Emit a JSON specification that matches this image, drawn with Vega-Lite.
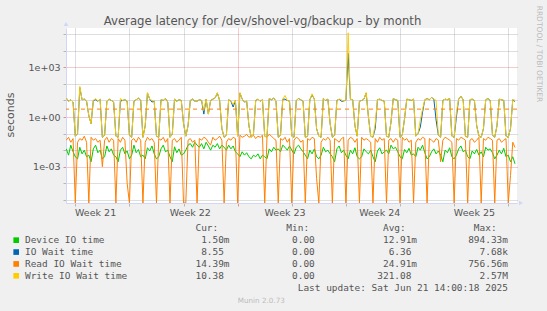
{
 "$schema": "https://vega.github.io/schema/vega-lite/v6.json",
 "width": 451,
 "height": 175,
 "autosize": {"type": "none"},
 "padding": {"left": 66, "top": 28, "right": 30, "bottom": 108},
 "background": "#f0f0f0",
 "config": {"view": {"fill": "#ffffff", "stroke": null}, "font": "DejaVu Sans", "axis": {"labelFont": "DejaVu Sans", "titleFont": "DejaVu Sans"}},
 "layer": [
  {
   "layer": [
    {
     "data": {"values": [
      {"hour":32,"dev":0.012,"io":14,"rd":0.04,"wr":14},
      {"hour":36,"dev":0.005,"io":9,"rd":0.06,"wr":9},
      {"hour":40,"dev":0.02,"io":11,"rd":0.03,"wr":11},
      {"hour":44,"dev":0.008,"io":8,"rd":0.05,"wr":8},
      {"hour":48,"dev":0.004,"io":0.07,"rd":0,"wr":0.07},
      {"hour":52,"dev":0.003,"io":0.1,"rd":0.03,"wr":0.1},
      {"hour":56,"dev":0.015,"io":60,"rd":0.05,"wr":70},
      {"hour":60,"dev":0.006,"io":11,"rd":0.04,"wr":11},
      {"hour":64,"dev":0.01,"io":12,"rd":0.07,"wr":12},
      {"hour":68,"dev":0.004,"io":9,"rd":0.03,"wr":9},
      {"hour":72,"dev":0.005,"io":1.2,"rd":0,"wr":1.2},
      {"hour":76,"dev":0.002,"io":0.4,"rd":0.06,"wr":0.4},
      {"hour":80,"dev":0.012,"io":10,"rd":0.04,"wr":10},
      {"hour":84,"dev":0.02,"io":11,"rd":0.05,"wr":13},
      {"hour":88,"dev":0.007,"io":9,"rd":0.03,"wr":9},
      {"hour":92,"dev":0.01,"io":12,"rd":0.04,"wr":12},
      {"hour":96,"dev":0.003,"io":0.06,"rd":0.001,"wr":0.06},
      {"hour":100,"dev":0.004,"io":0.08,"rd":0.04,"wr":0.08},
      {"hour":104,"dev":0.018,"io":9,"rd":0.06,"wr":9},
      {"hour":108,"dev":0.008,"io":12,"rd":0.03,"wr":12},
      {"hour":112,"dev":0.012,"io":10,"rd":0.05,"wr":10},
      {"hour":116,"dev":0.005,"io":8,"rd":0.04,"wr":8},
      {"hour":120,"dev":0.004,"io":0.07,"rd":0,"wr":0.07},
      {"hour":124,"dev":0.002,"io":0.06,"rd":0.05,"wr":0.06},
      {"hour":128,"dev":0.01,"io":9,"rd":0.03,"wr":13},
      {"hour":132,"dev":0.015,"io":10,"rd":0.06,"wr":10},
      {"hour":136,"dev":0.006,"io":11,"rd":0.04,"wr":11},
      {"hour":140,"dev":0.009,"io":9,"rd":0.0001,"wr":9},
      {"hour":144,"dev":0.003,"io":0.08,"rd":0,"wr":0.08},
      {"hour":148,"dev":0.005,"io":0.06,"rd":0.04,"wr":0.06},
      {"hour":152,"dev":0.02,"io":9,"rd":0.05,"wr":9},
      {"hour":156,"dev":0.007,"io":11,"rd":0.03,"wr":11},
      {"hour":160,"dev":0.011,"io":14,"rd":0.06,"wr":14},
      {"hour":164,"dev":0.004,"io":10,"rd":0.04,"wr":10},
      {"hour":168,"dev":0.005,"io":0.06,"rd":0,"wr":0.06},
      {"hour":172,"dev":0.003,"io":0.3,"rd":0.03,"wr":0.3},
      {"hour":176,"dev":0.014,"io":28,"rd":0.06,"wr":30},
      {"hour":180,"dev":0.009,"io":12,"rd":0.04,"wr":12},
      {"hour":184,"dev":0.018,"io":8,"rd":0.05,"wr":10},
      {"hour":188,"dev":0.006,"io":9,"rd":0.03,"wr":9},
      {"hour":192,"dev":0.003,"io":0.07,"rd":0,"wr":0.07},
      {"hour":196,"dev":0.004,"io":0.06,"rd":0.05,"wr":0.06},
      {"hour":200,"dev":0.012,"io":11,"rd":0.04,"wr":11},
      {"hour":204,"dev":0.02,"io":10,"rd":0.06,"wr":10},
      {"hour":208,"dev":0.008,"io":13,"rd":0.03,"wr":13},
      {"hour":212,"dev":0.01,"io":8,"rd":0.05,"wr":8},
      {"hour":216,"dev":0.004,"io":0.06,"rd":0,"wr":0.06},
      {"hour":220,"dev":0.002,"io":0.09,"rd":0.04,"wr":0.09},
      {"hour":224,"dev":0.016,"io":12,"rd":0.05,"wr":12},
      {"hour":228,"dev":0.007,"io":9,"rd":0.03,"wr":9},
      {"hour":232,"dev":0.012,"io":11,"rd":0.04,"wr":11},
      {"hour":236,"dev":0.005,"io":10,"rd":0.06,"wr":10},
      {"hour":240,"dev":0.006,"io":0.4,"rd":0,"wr":0.4},
      {"hour":244,"dev":0.01,"io":0.07,"rd":0,"wr":0.07},
      {"hour":248,"dev":0.02,"io":0.3,"rd":0.04,"wr":0.3},
      {"hour":252,"dev":0.025,"io":10,"rd":0.05,"wr":10},
      {"hour":256,"dev":0.015,"io":12,"rd":0.03,"wr":12},
      {"hour":260,"dev":0.03,"io":9,"rd":0.04,"wr":9},
      {"hour":264,"dev":0.02,"io":9,"rd":0,"wr":9},
      {"hour":268,"dev":0.015,"io":11,"rd":0.05,"wr":11},
      {"hour":272,"dev":0.025,"io":10,"rd":0.04,"wr":10},
      {"hour":276,"dev":0.012,"io":1.5,"rd":0.06,"wr":2.5},
      {"hour":280,"dev":0.03,"io":12,"rd":0.05,"wr":12},
      {"hour":284,"dev":0.018,"io":1.5,"rd":0.03,"wr":1.5},
      {"hour":288,"dev":0.01,"io":10,"rd":0.02,"wr":10},
      {"hour":292,"dev":0.02,"io":12,"rd":0.06,"wr":12},
      {"hour":296,"dev":0.015,"io":14,"rd":0.04,"wr":14},
      {"hour":300,"dev":0.025,"io":28,"rd":0.05,"wr":30},
      {"hour":304,"dev":0.012,"io":10,"rd":0.07,"wr":10},
      {"hour":308,"dev":0.02,"io":0.2,"rd":0.04,"wr":0.2},
      {"hour":312,"dev":0.015,"io":0.06,"rd":0,"wr":0.06},
      {"hour":316,"dev":0.01,"io":0.08,"rd":0.03,"wr":0.08},
      {"hour":320,"dev":0.02,"io":11,"rd":0.05,"wr":11},
      {"hour":324,"dev":0.012,"io":9,"rd":0.04,"wr":9},
      {"hour":328,"dev":0.018,"io":4,"rd":0.06,"wr":6},
      {"hour":332,"dev":0.008,"io":10,"rd":0.05,"wr":10},
      {"hour":336,"dev":0.006,"io":0.07,"rd":0,"wr":0.07},
      {"hour":340,"dev":0.004,"io":28,"rd":0.08,"wr":30},
      {"hour":344,"dev":0.008,"io":12,"rd":0.06,"wr":12},
      {"hour":348,"dev":0.005,"io":8,"rd":0.07,"wr":8},
      {"hour":352,"dev":0.007,"io":9,"rd":0.09,"wr":9},
      {"hour":356,"dev":0.004,"io":0.3,"rd":0.06,"wr":0.3},
      {"hour":360,"dev":0.003,"io":0.06,"rd":0.07,"wr":0.06},
      {"hour":364,"dev":0.005,"io":0.09,"rd":0.08,"wr":0.09},
      {"hour":368,"dev":0.004,"io":10,"rd":0.05,"wr":10},
      {"hour":372,"dev":0.006,"io":12,"rd":0.07,"wr":12},
      {"hour":376,"dev":0.003,"io":9,"rd":0.06,"wr":9},
      {"hour":380,"dev":0.005,"io":11,"rd":0.08,"wr":11},
      {"hour":384,"dev":0.004,"io":0.07,"rd":0,"wr":0.07},
      {"hour":388,"dev":0.003,"io":0.06,"rd":0.06,"wr":0.06},
      {"hour":392,"dev":0.012,"io":13,"rd":0.09,"wr":13},
      {"hour":396,"dev":0.008,"io":11,"rd":0.07,"wr":11},
      {"hour":400,"dev":0.015,"io":14,"rd":0.05,"wr":14},
      {"hour":404,"dev":0.01,"io":9,"rd":0.04,"wr":9},
      {"hour":408,"dev":0.012,"io":0.06,"rd":0,"wr":0.06},
      {"hour":412,"dev":0.008,"io":0.08,"rd":0.05,"wr":0.08},
      {"hour":416,"dev":0.02,"io":12,"rd":0.04,"wr":12},
      {"hour":420,"dev":0.015,"io":12,"rd":0.06,"wr":20},
      {"hour":424,"dev":0.01,"io":10,"rd":0.03,"wr":10},
      {"hour":428,"dev":0.018,"io":9,"rd":0.05,"wr":9},
      {"hour":432,"dev":0.01,"io":0.07,"rd":0,"wr":0.07},
      {"hour":436,"dev":0.006,"io":0.06,"rd":0.04,"wr":0.06},
      {"hour":440,"dev":0.015,"io":10,"rd":0.06,"wr":10},
      {"hour":444,"dev":0.02,"io":13,"rd":0.05,"wr":13},
      {"hour":448,"dev":0.012,"io":11,"rd":0.03,"wr":11},
      {"hour":452,"dev":0.008,"io":9,"rd":0.04,"wr":9},
      {"hour":456,"dev":0.005,"io":0.06,"rd":0,"wr":0.06},
      {"hour":460,"dev":0.003,"io":0.07,"rd":0.05,"wr":0.07},
      {"hour":464,"dev":0.01,"io":11,"rd":0.04,"wr":11},
      {"hour":468,"dev":0.006,"io":22,"rd":0.06,"wr":25},
      {"hour":472,"dev":0.012,"io":12,"rd":0.05,"wr":12},
      {"hour":476,"dev":0.004,"io":0.2,"rd":0.0002,"wr":0.2},
      {"hour":480,"dev":0.003,"io":0.07,"rd":0,"wr":0.07},
      {"hour":484,"dev":0.005,"io":0.06,"rd":0.03,"wr":0.06},
      {"hour":488,"dev":0.015,"io":13,"rd":0.05,"wr":13},
      {"hour":492,"dev":0.008,"io":10,"rd":0.04,"wr":10},
      {"hour":496,"dev":0.01,"io":12,"rd":0.06,"wr":12},
      {"hour":500,"dev":0.006,"io":0.4,"rd":0.04,"wr":0.4},
      {"hour":504,"dev":0.004,"io":0.06,"rd":0,"wr":0.06},
      {"hour":508,"dev":0.002,"io":0.08,"rd":0.05,"wr":0.08},
      {"hour":512,"dev":0.012,"io":10,"rd":0.04,"wr":10},
      {"hour":516,"dev":0.018,"io":12,"rd":0.03,"wr":12},
      {"hour":520,"dev":0.007,"io":9,"rd":0.05,"wr":11},
      {"hour":524,"dev":0.01,"io":9,"rd":0.06,"wr":9},
      {"hour":528,"dev":0.005,"io":11,"rd":0,"wr":11},
      {"hour":532,"dev":0.003,"io":7000,"rd":0.04,"wr":120000},
      {"hour":536,"dev":0.01,"io":12,"rd":0.06,"wr":12},
      {"hour":540,"dev":0.006,"io":11,"rd":0.05,"wr":11},
      {"hour":544,"dev":0.014,"io":0.3,"rd":0.03,"wr":0.3},
      {"hour":548,"dev":0.004,"io":0.07,"rd":0.05,"wr":0.07},
      {"hour":552,"dev":0.003,"io":9,"rd":0,"wr":9},
      {"hour":556,"dev":0.004,"io":10,"rd":0.06,"wr":10},
      {"hour":560,"dev":0.012,"io":12,"rd":0.04,"wr":12},
      {"hour":564,"dev":0.008,"io":28,"rd":0.05,"wr":30},
      {"hour":568,"dev":0.006,"io":1,"rd":0.04,"wr":1},
      {"hour":572,"dev":0.01,"io":0.07,"rd":0.03,"wr":0.07},
      {"hour":576,"dev":0.004,"io":0.06,"rd":0,"wr":0.06},
      {"hour":580,"dev":0.002,"io":0.2,"rd":0.05,"wr":0.4},
      {"hour":584,"dev":0.009,"io":11,"rd":0.03,"wr":11},
      {"hour":588,"dev":0.014,"io":12,"rd":0.06,"wr":12},
      {"hour":592,"dev":0.006,"io":10,"rd":0.04,"wr":10},
      {"hour":596,"dev":0.008,"io":9,"rd":0.05,"wr":9},
      {"hour":600,"dev":0.01,"io":0.07,"rd":0,"wr":0.07},
      {"hour":604,"dev":0.006,"io":0.06,"rd":0.04,"wr":0.06},
      {"hour":608,"dev":0.02,"io":0.5,"rd":0.05,"wr":0.5},
      {"hour":612,"dev":0.012,"io":13,"rd":0.03,"wr":13},
      {"hour":616,"dev":0.015,"io":11,"rd":0.05,"wr":11},
      {"hour":620,"dev":0.008,"io":10,"rd":0.04,"wr":10},
      {"hour":624,"dev":0.004,"io":0.06,"rd":0,"wr":0.06},
      {"hour":628,"dev":0.003,"io":0.08,"rd":0.06,"wr":0.08},
      {"hour":632,"dev":0.011,"io":0.8,"rd":0.04,"wr":0.8},
      {"hour":636,"dev":0.007,"io":12,"rd":0.05,"wr":12},
      {"hour":640,"dev":0.013,"io":11,"rd":0.03,"wr":11},
      {"hour":644,"dev":0.005,"io":10,"rd":0.04,"wr":10},
      {"hour":648,"dev":0.006,"io":12,"rd":0,"wr":12},
      {"hour":652,"dev":0.004,"io":0.07,"rd":0.03,"wr":0.07},
      {"hour":656,"dev":0.015,"io":0.1,"rd":0.05,"wr":0.1},
      {"hour":660,"dev":0.01,"io":0.25,"rd":0.04,"wr":0.7},
      {"hour":664,"dev":0.02,"io":2,"rd":0.06,"wr":3},
      {"hour":668,"dev":0.007,"io":11,"rd":0.05,"wr":11},
      {"hour":672,"dev":0.003,"io":13,"rd":0,"wr":13},
      {"hour":676,"dev":0.004,"io":11,"rd":0.05,"wr":11},
      {"hour":680,"dev":0.008,"io":15,"rd":0.04,"wr":15},
      {"hour":684,"dev":0.012,"io":12,"rd":0.03,"wr":12},
      {"hour":688,"dev":0.006,"io":0.65,"rd":0.05,"wr":10},
      {"hour":692,"dev":0.009,"io":0.08,"rd":0.04,"wr":0.08},
      {"hour":696,"dev":0.005,"io":0.06,"rd":0.002,"wr":0.06},
      {"hour":700,"dev":0.002,"io":10,"rd":0.04,"wr":10},
      {"hour":704,"dev":0.01,"io":12,"rd":0.06,"wr":12},
      {"hour":708,"dev":0.007,"io":11,"rd":0.05,"wr":11},
      {"hour":712,"dev":0.014,"io":13,"rd":0.04,"wr":13},
      {"hour":716,"dev":0.004,"io":0.07,"rd":0.03,"wr":0.07},
      {"hour":720,"dev":0.003,"io":0.06,"rd":0,"wr":0.06},
      {"hour":724,"dev":0.005,"io":1,"rd":0.05,"wr":2},
      {"hour":728,"dev":0.012,"io":12,"rd":0.04,"wr":12},
      {"hour":732,"dev":0.018,"io":18,"rd":0.06,"wr":18},
      {"hour":736,"dev":0.008,"io":11,"rd":0.05,"wr":11},
      {"hour":740,"dev":0.01,"io":0.07,"rd":0.04,"wr":0.07},
      {"hour":744,"dev":0.004,"io":0.06,"rd":0,"wr":0.06},
      {"hour":748,"dev":0.003,"io":11,"rd":0.04,"wr":11},
      {"hour":752,"dev":0.009,"io":12,"rd":0.05,"wr":12},
      {"hour":756,"dev":0.006,"io":10,"rd":0.03,"wr":10},
      {"hour":760,"dev":0.011,"io":0.3,"rd":0.04,"wr":0.3},
      {"hour":764,"dev":0.005,"io":0.07,"rd":0.06,"wr":0.07},
      {"hour":768,"dev":0.008,"io":0.06,"rd":0,"wr":0.06},
      {"hour":772,"dev":0.004,"io":0.2,"rd":0.05,"wr":0.2},
      {"hour":776,"dev":0.015,"io":11,"rd":0.04,"wr":11},
      {"hour":780,"dev":0.01,"io":13,"rd":0.06,"wr":13},
      {"hour":784,"dev":0.012,"io":10,"rd":0.05,"wr":10},
      {"hour":788,"dev":0.007,"io":0.08,"rd":0.04,"wr":0.08},
      {"hour":792,"dev":0.003,"io":0.06,"rd":0,"wr":0.06},
      {"hour":796,"dev":0.005,"io":0.3,"rd":0.04,"wr":0.3},
      {"hour":800,"dev":0.01,"io":12,"rd":0.05,"wr":12},
      {"hour":804,"dev":0.006,"io":11,"rd":0.03,"wr":11},
      {"hour":808,"dev":0.013,"io":10,"rd":0.04,"wr":10},
      {"hour":812,"dev":0.004,"io":0.07,"rd":0.05,"wr":0.07},
      {"hour":816,"dev":0.005,"io":0.06,"rd":0,"wr":0.06},
      {"hour":820,"dev":0.002,"io":0.2,"rd":0.0003,"wr":0.2},
      {"hour":824,"dev":0.004,"io":11,"rd":0.03,"wr":11},
      {"hour":828,"dev":0.0015,"io":8.55,"rd":0.0144,"wr":10.38}
     ]},
     "transform": [{"fold": ["dev", "io", "rd", "wr"], "as": ["series", "seconds"]}],
     "encoding": {
      "x": {"field": "hour", "type": "quantitative",
       "scale": {"domain": [31.5, 831.5], "nice": false, "zero": false},
       "axis": {"orient": "bottom",
        "values": [48,72,96,120,144,168,192,216,240,264,288,312,336,360,384,408,432,456,480,504,528,552,576,600,624,648,672,696,720,744,768,792,816],
        "labels": false,
        "tickSize": 3,
        "tickColor": {"condition": {"test": "datum.value % 168 === 0", "value": "rgba(222,79,79,0.6)"}, "value": "rgba(143,143,143,0.6)"},
        "grid": true, "gridDash": [1, 1],
        "gridColor": {"condition": {"test": "datum.value % 168 === 0", "value": "rgba(222,79,79,0.6)"}, "value": "rgba(143,143,143,0.6)"},
        "domainColor": "#cfd6f8",
        "title": "Munin 2.0.73", "titleX": 194.8, "titleY": 97, "titleAlign": "center", "titleBaseline": "middle",
        "titleFontSize": 7.2, "titleFontWeight": "normal", "titleColor": "#bbbbbb"}},
      "y": {"field": "seconds", "type": "quantitative",
       "scale": {"type": "log", "domain": [0.0000065, 235000], "nice": false, "clamp": true},
       "axis": {"orient": "left",
        "values": [0.00001, 0.0001, 0.001, 0.01, 0.1, 1, 10, 100, 1000, 10000, 100000],
        "labelExpr": "datum.value === 1000 ? '1e+03' : datum.value === 1 ? '1e+00' : datum.value === 0.001 ? '1e-03' : ''",
        "labelOverlap": false, "labelFlush": false, "labelBound": false,
        "labelFontSize": 9.5, "labelColor": "#555555", "labelPadding": 3,
        "tickSize": 3,
        "tickColor": {"condition": {"test": "datum.value === 0.001 || datum.value === 1 || datum.value === 1000", "value": "rgba(222,79,79,0.6)"}, "value": "rgba(143,143,143,0.6)"},
        "grid": true, "gridDash": [1, 1],
        "gridColor": {"condition": {"test": "datum.value === 0.001 || datum.value === 1 || datum.value === 1000", "value": "rgba(222,79,79,0.6)"}, "value": "rgba(143,143,143,0.6)"},
        "domainColor": "#cfd6f8",
        "title": "seconds", "titleX": -55.2, "titleY": 86.5, "titleAngle": 270, "titleAlign": "center", "titleBaseline": "middle",
        "titleFontSize": 11, "titleFontWeight": "normal", "titleColor": "#555555"}},
      "color": {"field": "series", "type": "nominal",
       "scale": {"domain": ["dev", "io", "rd", "wr"], "range": ["#00cc00", "#0066b3", "#ff8000", "#ffcc00"]},
       "legend": null}
     },
     "layer": [
      {"transform": [{"filter": "datum.series === 'dev'"}], "mark": {"type": "line", "strokeWidth": 1, "clip": true}},
      {"transform": [{"filter": "datum.series === 'io'"}], "mark": {"type": "line", "strokeWidth": 1, "clip": true}},
      {"transform": [{"filter": "datum.series === 'rd'"}], "mark": {"type": "line", "strokeWidth": 1, "clip": true}},
      {"transform": [{"filter": "datum.series === 'wr'"}], "mark": {"type": "line", "strokeWidth": 1, "clip": true}}
     ]
    },
    {
     "data": {"values": [{"level": 3}]},
     "mark": {"type": "rule", "color": "#ff8000", "strokeWidth": 1, "strokeDash": [4, 4]},
     "encoding": {"y": {"field": "level", "type": "quantitative", "title": "seconds"}}
    },
    {
     "data": {"values": [
      {"hour": 84, "week": "Week 21"},
      {"hour": 252, "week": "Week 22"},
      {"hour": 420, "week": "Week 23"},
      {"hour": 588, "week": "Week 24"},
      {"hour": 756, "week": "Week 25"}
     ]},
     "mark": {"type": "text", "baseline": "alphabetic", "align": "center", "dy": 12.7, "font": "DejaVu Sans", "fontSize": 9.5, "color": "#555555"},
     "encoding": {
      "x": {"field": "hour", "type": "quantitative", "title": "Munin 2.0.73"},
      "y": {"datum": 0.0000065, "type": "quantitative"},
      "text": {"field": "week"}
     }
    },
    {
     "data": {"values": [{"arrow": "up"}]},
     "mark": {"type": "point", "shape": "triangle-up", "filled": true, "color": "#cfd6f8", "opacity": 1, "size": 22, "yOffset": -4},
     "encoding": {"x": {"datum": 31.5, "type": "quantitative"}, "y": {"datum": 235000, "type": "quantitative"}}
    },
    {
     "data": {"values": [{"arrow": "right"}]},
     "mark": {"type": "point", "shape": "triangle-right", "filled": true, "color": "#cfd6f8", "opacity": 1, "size": 22, "xOffset": 4},
     "encoding": {"x": {"datum": 831.5, "type": "quantitative"}, "y": {"datum": 0.0000065, "type": "quantitative"}}
    }
   ]
  },
  {
   "data": {"values": [
    {"row": "header", "text": "\u200b\u00a0\u00a0\u00a0\u00a0\u00a0\u00a0\u00a0\u00a0\u00a0\u00a0\u00a0\u00a0\u00a0\u00a0\u00a0\u00a0\u00a0\u00a0\u00a0\u00a0\u00a0\u00a0\u00a0\u00a0\u00a0\u00a0\u00a0\u00a0\u00a0\u00a0Cur:\u00a0\u00a0\u00a0\u00a0\u00a0\u00a0\u00a0\u00a0\u00a0\u00a0\u00a0\u00a0Min:\u00a0\u00a0\u00a0\u00a0\u00a0\u00a0\u00a0\u00a0\u00a0\u00a0\u00a0\u00a0\u00a0Avg:\u00a0\u00a0\u00a0\u00a0\u00a0\u00a0\u00a0\u00a0\u00a0\u00a0\u00a0\u00a0Max:"},
    {"row": "dev", "text": "Device IO time\u00a0\u00a0\u00a0\u00a0\u00a0\u00a0\u00a0\u00a0\u00a0\u00a0\u00a0\u00a0\u00a0\u00a0\u00a0\u00a0\u00a01.50m\u00a0\u00a0\u00a0\u00a0\u00a0\u00a0\u00a0\u00a0\u00a0\u00a0\u00a00.00\u00a0\u00a0\u00a0\u00a0\u00a0\u00a0\u00a0\u00a0\u00a0\u00a0\u00a0\u00a012.91m\u00a0\u00a0\u00a0\u00a0\u00a0\u00a0\u00a0\u00a0\u00a0894.33m"},
    {"row": "io", "text": "IO Wait time\u00a0\u00a0\u00a0\u00a0\u00a0\u00a0\u00a0\u00a0\u00a0\u00a0\u00a0\u00a0\u00a0\u00a0\u00a0\u00a0\u00a0\u00a0\u00a08.55\u00a0\u00a0\u00a0\u00a0\u00a0\u00a0\u00a0\u00a0\u00a0\u00a0\u00a0\u00a00.00\u00a0\u00a0\u00a0\u00a0\u00a0\u00a0\u00a0\u00a0\u00a0\u00a0\u00a0\u00a0\u00a06.36\u00a0\u00a0\u00a0\u00a0\u00a0\u00a0\u00a0\u00a0\u00a0\u00a0\u00a0\u00a07.68k"},
    {"row": "rd", "text": "Read IO Wait time\u00a0\u00a0\u00a0\u00a0\u00a0\u00a0\u00a0\u00a0\u00a0\u00a0\u00a0\u00a0\u00a014.39m\u00a0\u00a0\u00a0\u00a0\u00a0\u00a0\u00a0\u00a0\u00a0\u00a0\u00a00.00\u00a0\u00a0\u00a0\u00a0\u00a0\u00a0\u00a0\u00a0\u00a0\u00a0\u00a0\u00a024.91m\u00a0\u00a0\u00a0\u00a0\u00a0\u00a0\u00a0\u00a0\u00a0756.56m"},
    {"row": "wr", "text": "Write IO Wait time\u00a0\u00a0\u00a0\u00a0\u00a0\u00a0\u00a0\u00a0\u00a0\u00a0\u00a0\u00a010.38\u00a0\u00a0\u00a0\u00a0\u00a0\u00a0\u00a0\u00a0\u00a0\u00a0\u00a0\u00a00.00\u00a0\u00a0\u00a0\u00a0\u00a0\u00a0\u00a0\u00a0\u00a0\u00a0\u00a0321.08\u00a0\u00a0\u00a0\u00a0\u00a0\u00a0\u00a0\u00a0\u00a0\u00a0\u00a0\u00a02.57M"},
    {"row": "update", "text": "\u200b\u00a0\u00a0\u00a0\u00a0\u00a0\u00a0\u00a0\u00a0\u00a0\u00a0\u00a0\u00a0\u00a0\u00a0\u00a0\u00a0\u00a0\u00a0\u00a0\u00a0\u00a0\u00a0\u00a0\u00a0\u00a0\u00a0\u00a0\u00a0\u00a0\u00a0\u00a0\u00a0\u00a0\u00a0\u00a0\u00a0\u00a0\u00a0\u00a0\u00a0\u00a0\u00a0\u00a0\u00a0\u00a0\u00a0\u00a0\u00a0Last update: Sat Jun 21 14:00:18 2025"}
   ]},
   "layer": [
    {
     "mark": {"type": "text", "align": "left", "baseline": "middle", "font": "DejaVu Sans Mono", "fontSize": 9.45, "color": "#555555"},
     "encoding": {
      "x": {"datum": "txt", "type": "nominal",
       "scale": {"type": "point", "domain": ["sq", "txt"], "range": [-49.8, -41], "padding": 0},
       "axis": {"orient": "top", "labels": false, "ticks": false, "domain": false, "grid": false,
        "title": "Average latency for /dev/shovel-vg/backup - by month", "titleX": 196, "titleY": -4,
        "titleAlign": "center", "titleBaseline": "alphabetic", "titleFontSize": 11.7, "titleFontWeight": "normal", "titleColor": "#555555"}},
      "y": {"field": "row", "type": "nominal",
       "scale": {"type": "point", "domain": ["header", "dev", "io", "rd", "wr", "update"], "range": [200.3, 259.7], "padding": 0},
       "axis": {"orient": "right", "labels": false, "ticks": false, "domain": false, "grid": false,
        "title": "RRDTOOL / TOBI OETIKER", "titleX": 21, "titleY": -22.8, "titleAngle": 90,
        "titleAlign": "left", "titleBaseline": "middle", "titleFontSize": 7.5, "titleFontWeight": "normal", "titleColor": "#bbbbbb"}},
      "text": {"field": "text"}
     }
    },
    {
     "transform": [{"filter": {"field": "row", "oneOf": ["dev", "io", "rd", "wr"]}}],
     "mark": {"type": "point", "shape": "square", "filled": true, "opacity": 1, "size": 32},
     "encoding": {
      "x": {"datum": "sq", "type": "nominal",
       "scale": {"type": "point", "domain": ["sq", "txt"], "range": [-49.8, -41], "padding": 0},
       "axis": {"orient": "top", "labels": false, "ticks": false, "domain": false, "grid": false,
        "title": "Average latency for /dev/shovel-vg/backup - by month", "titleX": 196, "titleY": -4,
        "titleAlign": "center", "titleBaseline": "alphabetic", "titleFontSize": 11.7, "titleFontWeight": "normal", "titleColor": "#555555"}},
      "y": {"field": "row", "type": "nominal",
       "scale": {"type": "point", "domain": ["header", "dev", "io", "rd", "wr", "update"], "range": [200.3, 259.7], "padding": 0},
       "axis": {"orient": "right", "labels": false, "ticks": false, "domain": false, "grid": false,
        "title": "RRDTOOL / TOBI OETIKER", "titleX": 21, "titleY": -22.8, "titleAngle": 90,
        "titleAlign": "left", "titleBaseline": "middle", "titleFontSize": 7.5, "titleFontWeight": "normal", "titleColor": "#bbbbbb"}},
      "color": {"field": "row", "type": "nominal", "legend": null}
     }
    }
   ]
  }
 ],
 "resolve": {"scale": {"x": "independent", "y": "independent"}, "axis": {"x": "independent", "y": "independent"}}
}
